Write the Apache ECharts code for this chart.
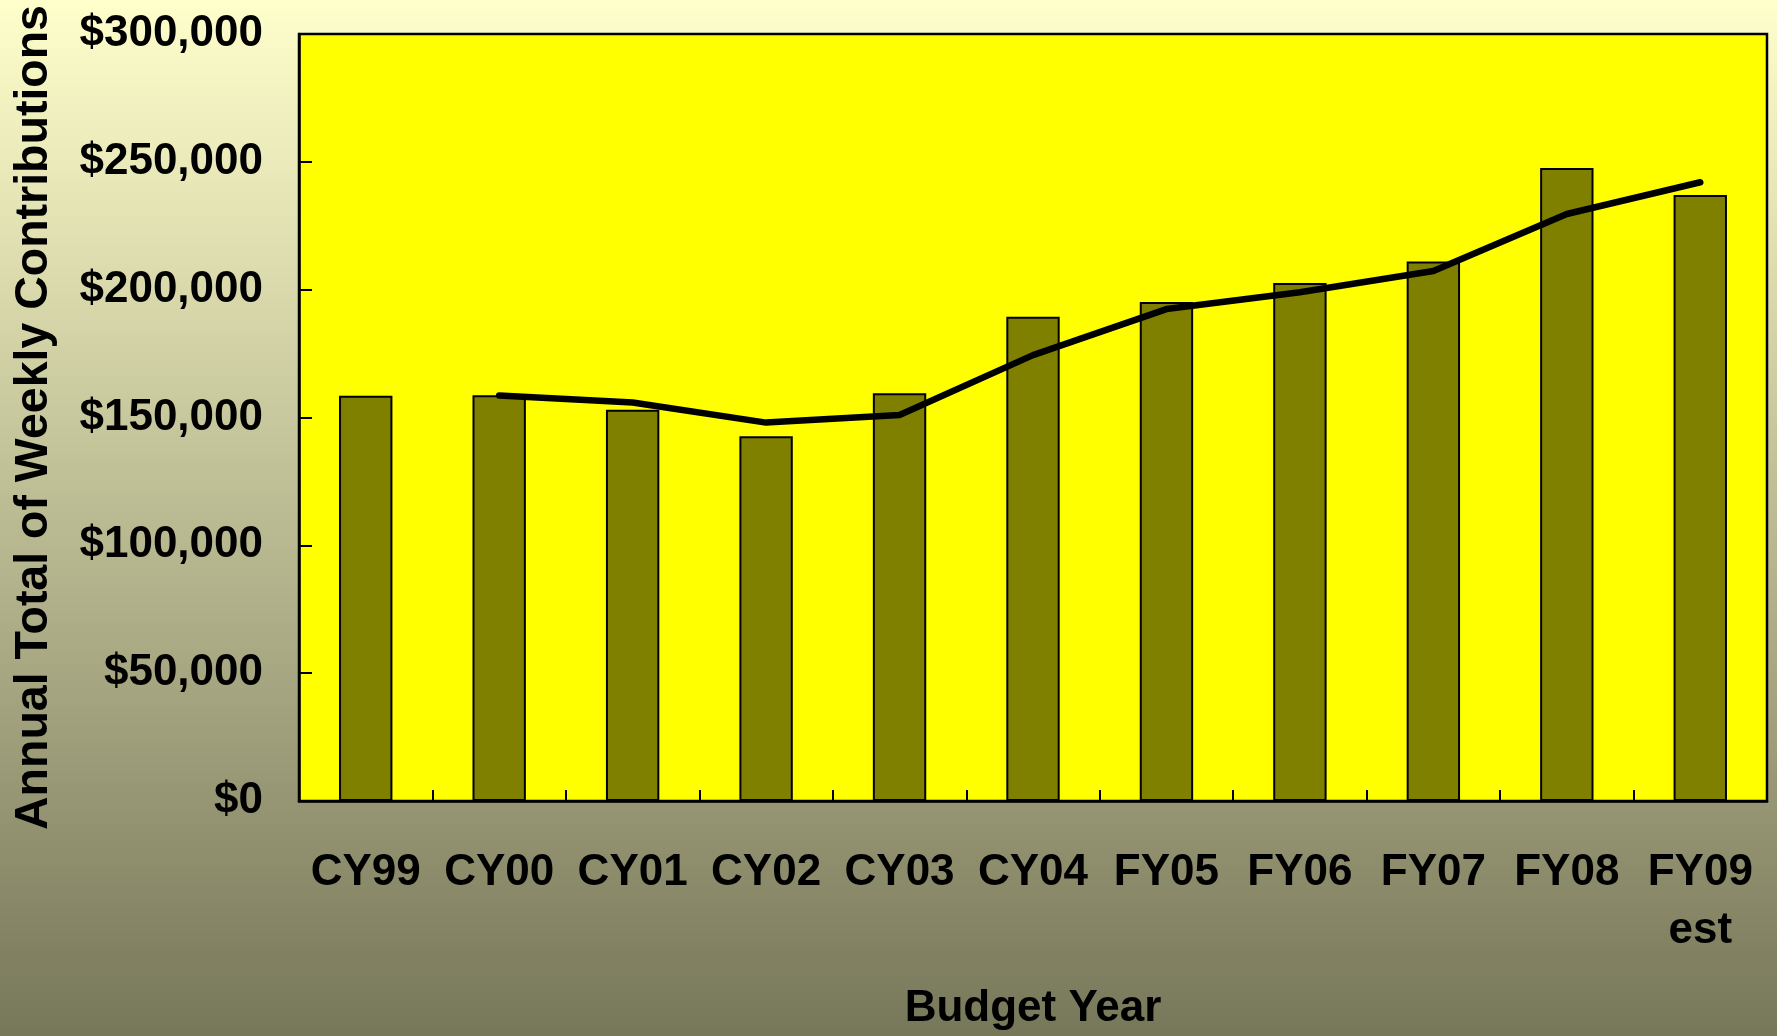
<!DOCTYPE html>
<html>
<head>
<meta charset="utf-8">
<script src="https://cdn.jsdelivr.net/npm/echarts@6/dist/echarts.min.js"></script>
<style>
html,body{margin:0;padding:0;}
#chart{width:1777px;height:1036px;}
</style>
</head>
<body>
<div id="chart"></div>
<script>
const categories = ['CY99','CY00','CY01','CY02','CY03','CY04','FY05','FY06','FY07','FY08','FY09\nest'];
const contributions = [158500, 158700, 153000, 142700, 159500, 189400, 195200, 202600, 211000, 247600, 237000];
const trendValues = [null, 158600, 155900, 148000, 151000, 174400, 192400, 199000, 207300, 229600, 242000];
const yTicks = { min: 0, max: 300000, interval: 50000 };
const halfCategories = Array.from({length: categories.length * 2}, (_, i) => 'h' + i);

const FONT = '"Liberation Sans", Arial, sans-serif';
const chart = echarts.init(document.getElementById('chart'), null, {renderer: 'canvas'});
chart.setOption({
  animation: false,
  backgroundColor: {
    type: 'linear', x: 0, y: 0, x2: 0, y2: 1,
    colorStops: [
      {offset: 0, color: '#FFFFCC'},
      {offset: 1, color: '#77775A'}
    ]
  },
  grid: {
    left: 299, top: 34, right: 10, bottom: 231,
    show: true, backgroundColor: '#FFFF00', borderColor: '#000', borderWidth: 2.5
  },
  xAxis: [{
    type: 'category',
    data: categories,
    boundaryGap: true,
    name: 'Budget Year',
    nameLocation: 'middle',
    nameGap: 186,
    nameTextStyle: {fontFamily: FONT, fontWeight: 'bold', fontSize: 44, color: '#000'},
    axisLine: {show: true, lineStyle: {color: '#000', width: 2.5}},
    axisTick: {show: false},
    axisLabel: {
      interval: 0, margin: 43, color: '#000',
      fontFamily: FONT, fontWeight: 'bold', fontSize: 44, lineHeight: 58
    },
    splitLine: {show: false}
  }, {
    type: 'category',
    data: halfCategories,
    position: 'bottom',
    boundaryGap: true,
    axisLine: {show: false},
    axisTick: {show: true, inside: true, length: 11, interval: 0, lineStyle: {color: '#000', width: 2}},
    axisLabel: {show: false},
    splitLine: {show: false}
  }],
  yAxis: {
    type: 'value',
    min: yTicks.min, max: yTicks.max, interval: yTicks.interval,
    name: 'Annual Total of Weekly Contributions',
    nameLocation: 'middle',
    nameGap: 241,
    nameTextStyle: {fontFamily: FONT, fontWeight: 'bold', fontSize: 46.5, color: '#000'},
    axisLine: {show: true, lineStyle: {color: '#000', width: 2.5}},
    axisTick: {show: true, inside: true, length: 13, lineStyle: {color: '#000', width: 2}},
    axisLabel: {
      margin: 36, color: '#000',
      fontFamily: FONT, fontWeight: 'bold', fontSize: 44,
      formatter: v => '$' + v.toLocaleString('en-US')
    },
    splitLine: {show: false}
  },
  series: [{
    type: 'bar',
    data: contributions,
    barWidth: '40%',
    itemStyle: {color: '#808000', borderColor: '#000', borderWidth: 2}
  }, {
    type: 'line',
    data: trendValues,
    symbol: 'none',
    connectNulls: false,
    lineStyle: {color: '#000', width: 6.5, cap: 'round', join: 'round'},
    z: 5
  }]
});
</script>
</body>
</html>
